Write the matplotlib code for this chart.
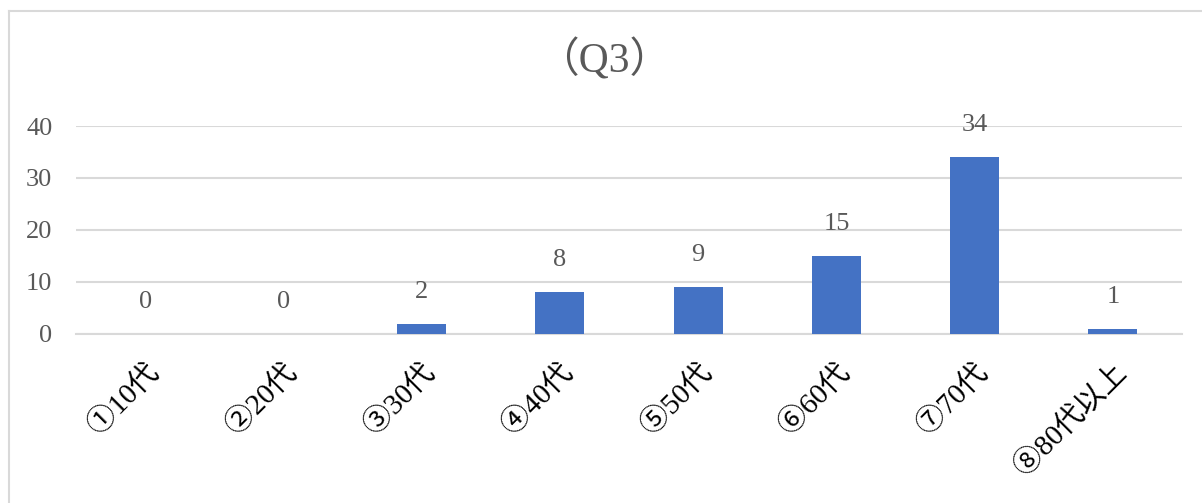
import matplotlib
matplotlib.use("Agg")
import matplotlib.pyplot as plt
from matplotlib.lines import Line2D

FONTS = ["Liberation Serif", "Noto Sans CJK JP", "DejaVu Sans"]
plt.rcParams["font.family"] = FONTS

TITLE = "（Q3）"
CATEGORIES = ["①10代", "②20代", "③30代", "④40代", "⑤50代", "⑥60代", "⑦70代", "⑧80代以上"]
COUNTS = [0, 0, 2, 8, 9, 15, 34, 1]
Y_TICKS = [0, 10, 20, 30, 40]

BAR_COLOR = "#4472C4"
GRID_COLOR = "#D9D9D9"
TEXT_GRAY = "#595959"

fig = plt.figure(figsize=(12.02, 5.03), dpi=100)
ax = fig.add_axes([0.0632, 0.336, 0.9202, 0.4135])

x = list(range(len(CATEGORIES)))
ax.bar(x, COUNTS, width=0.355, color=BAR_COLOR, zorder=3)

for xi, v in zip(x, COUNTS):
    ax.annotate(str(v), (xi, v), xytext=(0, 23), textcoords="offset points",
                ha="center", va="center", fontsize=19, color=TEXT_GRAY)

ax.set_xlim(-0.5, len(CATEGORIES) - 0.5)
ax.set_ylim(0, 40)
ax.set_yticks(Y_TICKS)
ax.set_yticklabels([str(t) for t in Y_TICKS], fontsize=19, color=TEXT_GRAY)
ax.tick_params(axis="y", length=0, pad=17)
ax.grid(axis="y", color=GRID_COLOR, linewidth=1.5, zorder=0)
ax.set_xticks(x)
ax.set_xticklabels(CATEGORIES, fontsize=21, rotation=45, ha="right", va="top",
                   rotation_mode="anchor", color="black")
ax.tick_params(axis="x", length=0, pad=18)
for label in ax.get_xticklabels():
    label.set_x(label.get_position()[0])
for side in ("top", "right", "left"):
    ax.spines[side].set_visible(False)
ax.spines["bottom"].set_color(GRID_COLOR)
ax.spines["bottom"].set_linewidth(1.5)

fig.text(0.503, 0.88, TITLE, ha="center", va="center", fontsize=30, color=TEXT_GRAY)

# light frame of the chart area (left and top only visible)
fig.add_artist(Line2D([8.5 / 1202, 8.5 / 1202], [0, 1 - 10.5 / 503],
                      color="#D9D9D9", linewidth=1.5))
fig.add_artist(Line2D([8.5 / 1202, 1], [1 - 10.5 / 503, 1 - 10.5 / 503],
                      color="#D9D9D9", linewidth=1.5))

fig.savefig("out.png", dpi=100)
